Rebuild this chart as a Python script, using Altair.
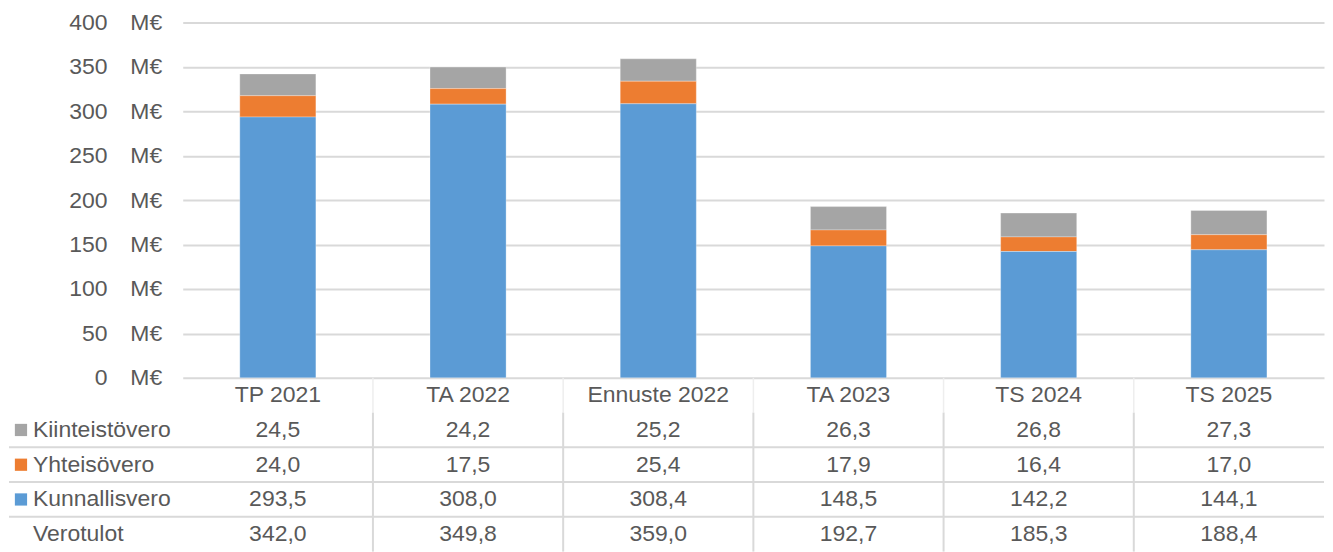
import altair as alt
import pandas as pd

categories = ["TP 2021", "TA 2022", "Ennuste 2022", "TA 2023", "TS 2024", "TS 2025"]
kiinteistovero = [24.5, 24.2, 25.2, 26.3, 26.8, 27.3]
yhteisovero = [24.0, 17.5, 25.4, 17.9, 16.4, 17.0]
kunnallisvero = [293.5, 308.0, 308.4, 148.5, 142.2, 144.1]
verotulot = [342.0, 349.8, 359.0, 192.7, 185.3, 188.4]
series = ["Kiinteistövero", "Yhteisövero", "Kunnallisvero"]
colors = ["#A5A5A5", "#ED7D31", "#5B9BD5"]
y_ticks = [0, 50, 100, 150, 200, 250, 300, 350, 400]
total_label = "Verotulot"

FONT = "Liberation Sans"
TXT = "#595959"
GRID = "#D9D9D9"
FS = 23
W = 1143
BH = 356
TH = 174
RH = TH / 5

values = {"Kiinteistövero": kiinteistovero, "Yhteisövero": yhteisovero, "Kunnallisvero": kunnallisvero}
stack_order = {"Kunnallisvero": 0, "Yhteisövero": 1, "Kiinteistövero": 2}

bar_rows = []
for s in series:
    for c, v in zip(categories, values[s]):
        bar_rows.append({"cat": c, "series": s, "value": v, "ord": stack_order[s]})
bars_df = pd.DataFrame(bar_rows)

color_scale = alt.Scale(domain=series, range=colors)

bars = alt.Chart(bars_df).mark_bar(stroke="white", strokeWidth=0.5, strokeOpacity=0.6).encode(
    x=alt.X("cat:N", sort=categories, axis=None,
            scale=alt.Scale(domain=categories, paddingInner=0.6, paddingOuter=0.3)),
    y=alt.Y("value:Q", stack="zero", title=None,
            scale=alt.Scale(domain=[0, 400], nice=False),
            axis=alt.Axis(values=y_ticks, labelExpr="datum.value + '\u2002\u2002M€'",
                          domain=False, ticks=False, labelPadding=21,
                          labelFontSize=FS, labelColor=TXT, labelFont=FONT,
                          gridColor=GRID, gridWidth=2)),
    color=alt.Color("series:N", scale=color_scale, legend=None),
    order=alt.Order("ord:Q"),
).properties(width=W, height=BH)

# table
row_names = ["header"] + series + [total_label]
fmt = lambda v: f"{v:.1f}".replace(".", ",")
cells = []
for i, c in enumerate(categories):
    cells.append({"cat": c, "row": "header", "label": c})
    for s in series:
        cells.append({"cat": c, "row": s, "label": fmt(values[s][i])})
    cells.append({"cat": c, "row": total_label, "label": fmt(verotulot[i])})
cells_df = pd.DataFrame(cells)

xs = alt.Scale(domain=categories, paddingInner=0, paddingOuter=0)
ys = alt.Scale(domain=row_names, paddingInner=0, paddingOuter=0)

cell_text = alt.Chart(cells_df).mark_text(font=FONT, fontSize=FS, color=TXT).encode(
    x=alt.X("cat:N", scale=xs, axis=None),
    y=alt.Y("row:N", scale=ys, axis=None),
    text="label:N",
)

rl_df = pd.DataFrame({"row": series + [total_label]})
row_labels = alt.Chart(rl_df).mark_text(font=FONT, fontSize=FS, color=TXT, align="left").encode(
    x=alt.value(-150),
    y=alt.Y("row:N", scale=ys, axis=None),
    text="row:N",
)

sq_df = pd.DataFrame({"row": series, "series": series})
squares = alt.Chart(sq_df).mark_point(shape="square", filled=True, size=150, opacity=1).encode(
    x=alt.value(-162),
    y=alt.Y("row:N", scale=ys, axis=None),
    color=alt.Color("series:N", scale=color_scale, legend=None),
)

hl_df = pd.DataFrame({"row": series[1:] + [total_label]})
hlines = alt.Chart(hl_df).mark_rule(color=GRID, strokeWidth=2).encode(
    y=alt.Y("row:N", scale=ys, axis=None, bandPosition=0),
    x=alt.value(-174),
    x2=alt.value(W),
)

vl_df = pd.DataFrame({"cat": categories[1:]})
vlines = alt.Chart(vl_df).mark_rule(color=GRID, strokeWidth=2).encode(
    x=alt.X("cat:N", scale=xs, axis=None, bandPosition=0),
    y=alt.value(RH),
    y2=alt.value(TH),
)
vlines_head = alt.Chart(vl_df).mark_rule(color="#EEEEEE", strokeWidth=1.5).encode(
    x=alt.X("cat:N", scale=xs, axis=None, bandPosition=0),
    y=alt.value(0),
    y2=alt.value(RH),
)

table = alt.layer(hlines, vlines_head, vlines, squares, row_labels, cell_text).properties(width=W, height=TH)

chart = alt.vconcat(bars, table, spacing=0, bounds="flush").resolve_scale(x="independent", y="independent").properties(
    padding={"left": 0, "top": 3, "right": 0, "bottom": 0}
).configure_view(stroke=None)

chart.save("out.html", embed_options={"renderer": "svg", "actions": False})
